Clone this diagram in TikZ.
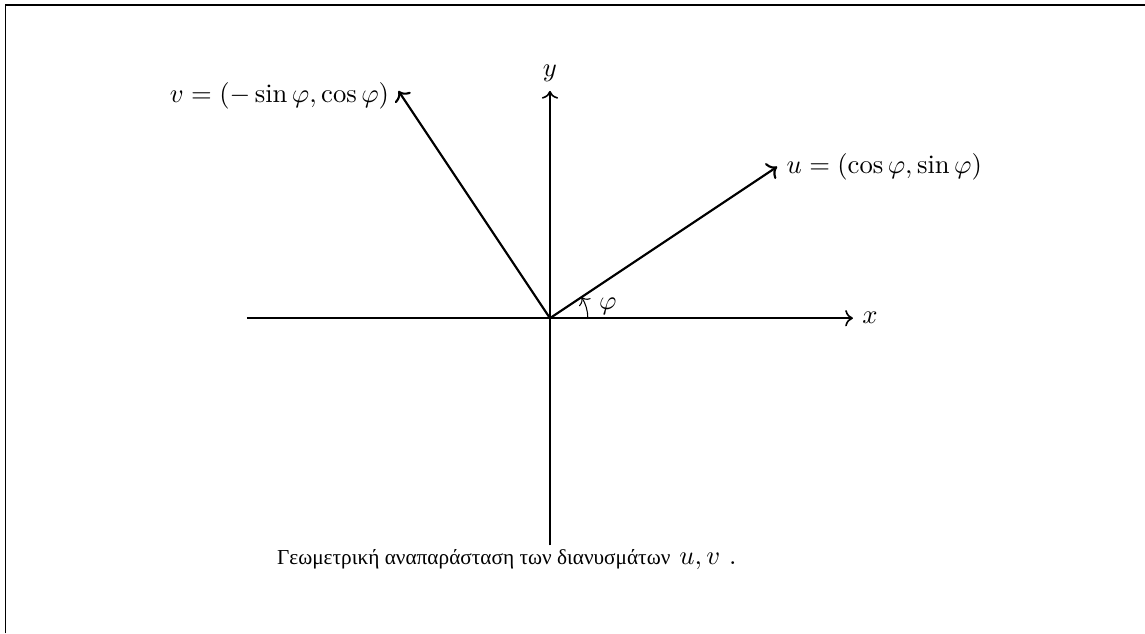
\documentclass[tikz,border=0pt]{standalone}
\usepackage{amsmath}
\usepackage{fontspec}
\newfontfamily\grfont[Scale=0.8]{Liberation Serif}
\usetikzlibrary{arrows.meta}

\begin{document}
\begin{tikzpicture}[
  axis/.style={->, semithick},
  vec/.style={->, thick},
  frameline/.style={semithick}]
  \useasboundingbox (-7.26,-4.16) rectangle (7.855,4.20);
  \draw[frameline] (-7.188,-4.16) -- (-7.188,4.132) -- (7.855,4.132);
  % axes
  \coordinate (o) at (0,0);
  \coordinate (xl) at (-4,0);
  \coordinate (xr) at (4,0);
  \coordinate (yb) at (0,-3);
  \coordinate (yt) at (0,3);
  \draw[axis] (xl) -- (xr);
  \draw[axis] (yb) -- (yt);
  \node[right] (xlab) at (xr) {$x$};
  \node[above] (ylab) at (yt) {$y$};
  % the two vectors
  \coordinate (u) at (3,2);
  \coordinate (v) at (-2,3);
  \draw[vec] (o) -- (u);
  \draw[vec] (o) -- (v);
  \node[right] (ulab) at (u) {$u=(\cos\varphi,\sin\varphi)$};
  \node[left, yshift=-2pt] (vlab) at (v) {$v=(-\sin\varphi,\cos\varphi)$};
  % angle
  \draw[->] (0.5,0) arc[start angle=0, end angle=33.69, radius=0.5];
  \node (philab) at (12:0.78) {$\varphi$};
  \node[anchor=base] (caption) at (-0.57,-3.25)
    {{\grfont Γεωμετρική αναπαράσταση των διανυσμάτων} $u,v$ .};
\end{tikzpicture}
\end{document}
